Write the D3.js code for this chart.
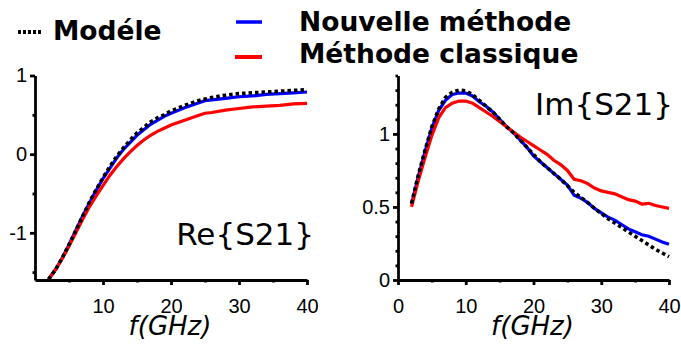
<!DOCTYPE html>
<html>
<head>
<meta charset="utf-8">
<script src="https://cdn.jsdelivr.net/npm/d3@7"></script>
<style>
  body { margin: 0; background: #fff; }
  svg { font-family: 'DejaVu Sans', sans-serif; }
  .axis path, .axis line { stroke: #000; stroke-width: 2.8; }
  .axis text { font-size: 20px; fill: #000; }
</style>
</head>
<body>
<svg id="chart" width="681" height="349"></svg>
<script>
(function() {
  'use strict';

  // frequencies (GHz)
  var freqRe = [2, 3, 4, 5, 6, 7, 8, 9, 10, 11, 12, 13, 14, 15, 16, 17, 18, 19, 20,
    22, 24, 25, 26, 28, 30, 32, 34, 36, 38, 40];
  var freqIm = [2, 3, 4, 5, 6, 7, 8, 9, 10, 11, 12, 13, 14, 15, 16, 17, 18, 19, 20,
    21, 22, 23, 24, 25, 26, 27, 28, 29, 30, 31, 32, 33, 34, 35, 36, 37, 38, 39, 40];

  // Re{S21}
  var reModele = [-1.59, -1.47, -1.32, -1.15, -0.97, -0.79, -0.61, -0.45, -0.30, -0.16, -0.03,
    0.08, 0.18, 0.27, 0.34, 0.41, 0.46, 0.50, 0.55, 0.62, 0.68, 0.70, 0.72, 0.75, 0.77,
    0.78, 0.79, 0.80, 0.81, 0.82];
  var reNouvelle = [-1.59, -1.47, -1.32, -1.15, -0.97, -0.79, -0.62, -0.46, -0.31, -0.18, -0.05,
    0.06, 0.15, 0.24, 0.31, 0.38, 0.43, 0.48, 0.52, 0.59, 0.65, 0.68, 0.69, 0.71, 0.73,
    0.74, 0.76, 0.77, 0.78, 0.79];
  var reClassique = [-1.59, -1.47, -1.33, -1.17, -1.0, -0.83, -0.67, -0.53, -0.40, -0.27, -0.16,
    -0.06, 0.03, 0.11, 0.18, 0.24, 0.29, 0.33, 0.37, 0.43, 0.49, 0.52, 0.53, 0.56, 0.58,
    0.60, 0.61, 0.62, 0.64, 0.645];

  // Im{S21}
  var imModele = [0.525, 0.72, 0.89, 1.05, 1.17, 1.25, 1.285, 1.30, 1.295, 1.27, 1.23, 1.19,
    1.15, 1.10, 1.05, 1.01, 0.96, 0.91, 0.86, 0.81, 0.77, 0.73, 0.69, 0.645, 0.60, 0.565,
    0.53, 0.49, 0.455, 0.42, 0.39, 0.36, 0.33, 0.30, 0.27, 0.24, 0.21, 0.185, 0.16];
  var imNouvelle = [0.52, 0.71, 0.88, 1.04, 1.16, 1.23, 1.27, 1.28, 1.28, 1.26, 1.22, 1.19,
    1.15, 1.10, 1.05, 1.01, 0.96, 0.91, 0.85, 0.81, 0.77, 0.73, 0.69, 0.65, 0.58, 0.56,
    0.53, 0.49, 0.46, 0.43, 0.41, 0.38, 0.35, 0.33, 0.31, 0.30, 0.28, 0.26, 0.245];
  var imClassique = [0.50, 0.68, 0.84, 0.99, 1.11, 1.18, 1.21, 1.225, 1.225, 1.21, 1.18, 1.15,
    1.12, 1.085, 1.05, 1.015, 0.98, 0.95, 0.92, 0.89, 0.86, 0.82, 0.79, 0.75, 0.69, 0.68,
    0.66, 0.63, 0.61, 0.60, 0.59, 0.57, 0.55, 0.54, 0.52, 0.525, 0.51, 0.50, 0.49];

  var xMajor = [0, 10, 20, 30, 40];
  var xMinor = [5, 15, 25, 35];
  var reMajor = [-1, 0, 1];
  var reMinor = [-1.5, -0.5, 0.5];
  var imMajor = [0, 0.5, 1];
  var imMinor = [0.1, 0.2, 0.3, 0.4, 0.6, 0.7, 0.8, 0.9, 1.1, 1.2, 1.3, 1.4];

  var series = [
    { name: 'Nouvelle méthode', color: '#0000ff', dash: null },
    { name: 'Méthode classique', color: '#ff0000', dash: null },
    { name: 'Modéle', color: '#000', dash: '3.5,3' }
  ];

  var svg = d3.select('#chart');

  var panel = function(opts) {
    var x = d3.scaleLinear().domain([0, 40]).range(opts.xRange),
      y = d3.scaleLinear().domain(opts.yDomain).range([280, 75.5]),
      g = svg.append('g');

    // minor ticks first, then major axes with labels
    g.append('g').attr('class', 'axis')
      .attr('transform', 'translate(0,280)')
      .call(d3.axisBottom(x).tickValues(xMinor).tickSize(2.5).tickFormat('').tickSizeOuter(0))
      .select('.domain').remove();
    g.append('g').attr('class', 'axis')
      .attr('transform', 'translate(' + opts.xRange[0] + ',0)')
      .call(d3.axisLeft(y).tickValues(opts.yMinor).tickSize(2.5).tickFormat('').tickSizeOuter(0))
      .select('.domain').remove();

    g.append('g').attr('class', 'axis')
      .attr('transform', 'translate(0,280)')
      .call(d3.axisBottom(x).tickValues(opts.xTicks).tickSize(5).tickPadding(14)
        .tickSizeOuter(0).tickFormat(d3.format('d')));
    g.append('g').attr('class', 'axis')
      .attr('transform', 'translate(' + opts.xRange[0] + ',0)')
      .call(d3.axisLeft(y).tickValues(opts.yMajor).tickSize(5).tickPadding(3)
        .tickSizeOuter(0).tickFormat(function(d) { return d3.format('')(d).replace('−', '-'); }));

    var line = d3.line()
      .x(function(d) { return x(d[0]); })
      .y(function(d) { return y(d[1]); });

    opts.values.forEach(function(vals, i) {
      var s = series[i];
      g.append('path')
        .datum(d3.zip(opts.freq, vals))
        .attr('d', line)
        .attr('fill', 'none')
        .attr('stroke', s.color)
        .attr('stroke-width', s.dash ? 3.6 : 3.2)
        .attr('stroke-dasharray', s.dash);
    });

    g.append('text')
      .attr('x', opts.label[0]).attr('y', opts.label[1])
      .attr('text-anchor', 'end')
      .style('font-size', '31px')
      .text(opts.title);

    g.append('text')
      .attr('x', (opts.xRange[0] + opts.xRange[1]) / 2 - 1).attr('y', 335)
      .attr('text-anchor', 'middle')
      .style('font-size', '26px')
      .style('font-style', 'italic')
      .text('f(GHz)');
  };

  panel({
    xRange: [35, 307],
    yDomain: [-1.6, 1],
    xTicks: xMajor.slice(1),
    yMajor: reMajor,
    yMinor: reMinor,
    freq: freqRe,
    values: [reNouvelle, reClassique, reModele],
    title: 'Re{S21}',
    label: [314, 245]
  });

  panel({
    xRange: [398, 669],
    yDomain: [0, 1.4],
    xTicks: xMajor,
    yMajor: imMajor,
    yMinor: imMinor,
    freq: freqIm,
    values: [imNouvelle, imClassique, imModele],
    title: 'Im{S21}',
    label: [673, 115]
  });

  // legend
  var legend = svg.append('g').style('font-size', '26.5px').style('font-weight', 'bold');
  var legendItems = [
    { s: series[2], x1: 18, x2: 43, y: 32, tx: 53, ty: 40, dash: '3,2', w: 4 },
    { s: series[0], x1: 236, x2: 262, y: 22, tx: 299, ty: 31, dash: null, w: 3.5 },
    { s: series[1], x1: 235, x2: 262, y: 57, tx: 299, ty: 63, dash: null, w: 4 }
  ];
  legendItems.forEach(function(d) {
    legend.append('line')
      .attr('x1', d.x1).attr('x2', d.x2).attr('y1', d.y).attr('y2', d.y)
      .attr('stroke', d.s.color)
      .attr('stroke-width', d.w)
      .attr('stroke-dasharray', d.dash);
    legend.append('text')
      .attr('x', d.tx).attr('y', d.ty)
      .text(d.s.name);
  });
}).call(this);
</script>
</body>
</html>
